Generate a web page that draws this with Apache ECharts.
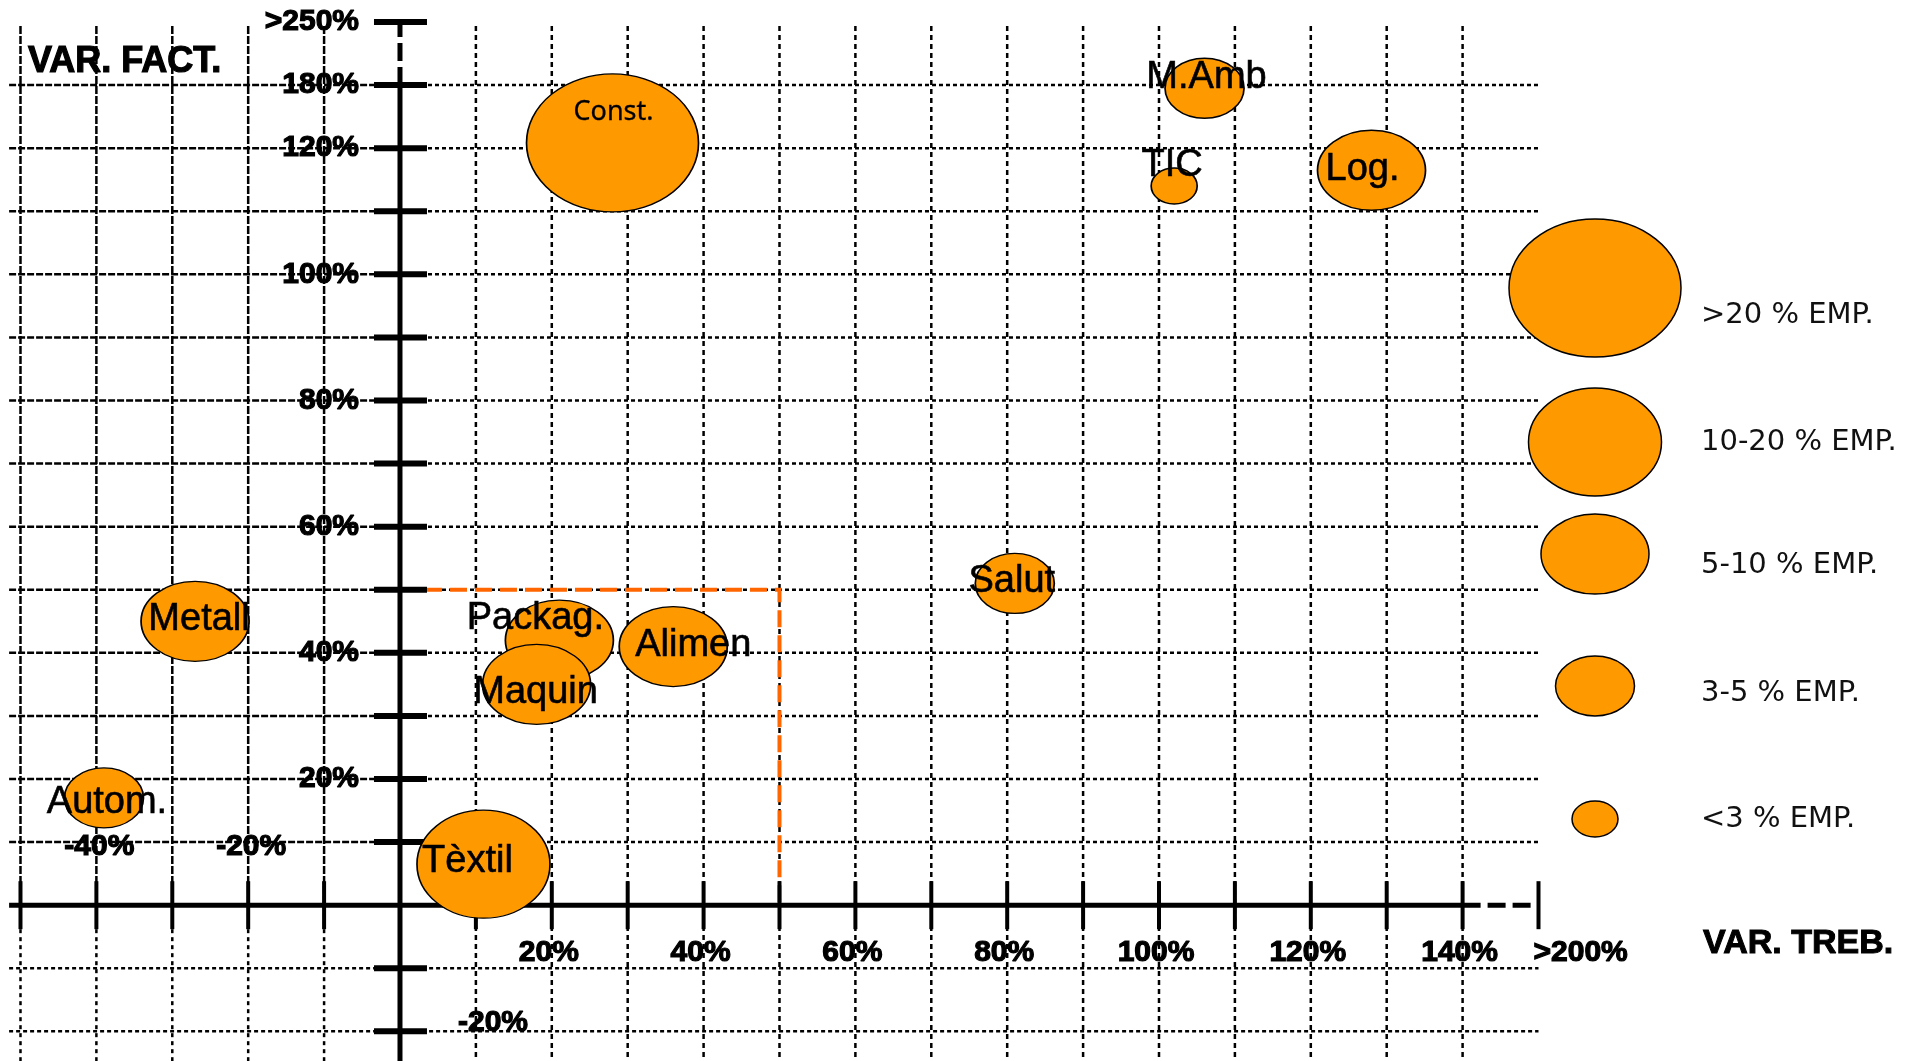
<!DOCTYPE html>
<html><head><meta charset="utf-8">
<script src="https://cdn.jsdelivr.net/npm/echarts@6/dist/echarts.min.js"></script>
<style>html,body{margin:0;padding:0;background:#fff;overflow:hidden}#c{width:1923px;height:1061px}</style>
</head><body><div id="c"></div>
<script>
// ---------------- DATA ----------------
const sectors  = ['Const.', 'M.Amb', 'TIC', 'Log.', 'Salut', 'Packag.', 'Maquin', 'Alimen', 'Metall', 'Autom.', 'Tèxtil'];
const varTreb  = [28, 106, 102, 128, 81, 21, 18, 36, -27, -39, 11];      // VAR. TREB. (%)
const varFact  = [125, 177, 114, 116.5, 51, 42, 35, 41, 45, 17, 6.5];     // VAR. FACT. (%)
const empClass = [0, 3, 4, 2, 3, 2, 2, 2, 2, 3, 1];                        // index into empClassLabels
const empClassLabels = ['>20 % EMP.', '10-20 % EMP.', '5-10 % EMP.', '3-5 % EMP.', '<3 % EMP.'];
const xTicks = [-50, -40, -30, -20, -10, 0, 10, 20, 30, 40, 50, 60, 70, 80, 90, 100, 110, 120, 130, 140, 200];
const yTicks = [-20, -10, 0, 10, 20, 30, 40, 50, 60, 70, 80, 90, 100, 110, 120, 180, 250];
const xLabelValues = [-40, -20, 20, 40, 60, 80, 100, 120, 140, 200];
const xLabelTexts  = ['-40%', '-20%', '20%', '40%', '60%', '80%', '100%', '120%', '140%', '>200%'];
const yLabelValues = [-20, 20, 40, 60, 80, 100, 120, 180, 250];
const yLabelTexts  = ['-20%', '20%', '40%', '60%', '80%', '100%', '120%', '180%', '>250%'];
const focusBox = [50, 50]; // dashed quadrant limit (VAR. TREB., VAR. FACT.)
const xTitle = 'VAR. TREB.';
const yTitle = 'VAR. FACT.';

// ---------------- SCALE (piecewise through ticks) ----------------
function toPos(v, ticks) {
  const z = ticks.indexOf(0);
  let i = 0;
  while (i < ticks.length - 2 && v > ticks[i + 1]) i++;
  return i + (v - ticks[i]) / (ticks[i + 1] - ticks[i]) - z;
}
const xPos = v => toPos(v, xTicks);
const yPos = v => toPos(v, yTicks);

// ---------------- STYLE ----------------
const X_MIN = -5.15, X_MAX = 15, Y_MIN = -2.47, Y_MAX = 14;
const ORANGE = '#FF9900';
const classSize = [[172, 138], [133, 108], [108, 80], [79, 60], [46, 36]];
const labelNudge = {
  'Const.': [1, -31], 'M.Amb': [2, -11], 'TIC': [-2, -21], 'Log.': [-9, -1], 'Salut': [-3, -2],
  'Packag.': [-24, -22], 'Maquin': [-1, 8], 'Alimen': [20, -1], 'Metall': [4, -2], 'Autom.': [3, 5], 'Tèxtil': [-16, -3]
};
const TICK_FONT = 'bold 30px "Liberation Sans", Arial, sans-serif';

function frameRender(params, api) {
  const c = (xv, yv) => api.coord([xPos(xv), yPos(yv)]);
  const cp = (px, py) => api.coord([px, py]);
  const o = c(0, 0);
  const kids = [];
  const line = (a, b, w, dash, color) => kids.push({
    type: 'line', shape: { x1: a[0], y1: a[1], x2: b[0], y2: b[1] },
    style: { stroke: color || '#000', lineWidth: w, lineDash: dash || null, lineCap: 'butt' }
  });
  const text = (str, x, y, align) => kids.push({
    type: 'text', x: x, y: y,
    style: { text: str, font: TICK_FONT, fill: '#000', stroke: '#000', lineWidth: 1.2,
      align: align, textAlign: align, verticalAlign: 'middle', textVerticalAlign: 'middle' }
  });
  const left = cp(X_MIN, 0)[0], right = cp(X_MAX, 0)[0];
  const top = c(0, yTicks[yTicks.length - 1])[1] + 4, bottom = cp(0, Y_MIN)[1];
  // grid
  xTicks.slice(0, -1).forEach(v => {
    if (v === 0) return;
    const x = c(v, 0)[0];
    if (v < 0) { line([x, top], [x, o[1]], 2.5, [8, 2]); line([x, o[1]], [x, bottom], 2.5, [4, 4]); }
    else line([x, top], [x, bottom], 2.5, [5, 4]);
  });
  yTicks.slice(0, -1).forEach(v => {
    if (v === 0) return;
    const y = c(0, v)[1];
    if (v > 0) { line([left, y], [o[0], y], 2.5, [7, 2]); line([o[0], y], [right, y], 2.5, [4, 3]); }
    else line([left, y], [right, y], 2.5, [4, 3]);
  });
  // dashed focus box
  const p1 = c(0, focusBox[1]), p2 = c(focusBox[0], focusBox[1]), p3 = c(focusBox[0], 0);
  kids.push({ type: 'polyline', shape: { points: [p1, p2, p3] },
    style: { stroke: '#FF6600', lineWidth: 4, lineDash: [17, 8], fill: null } });
  // axes
  const xl = xTicks[xTicks.length - 2], xe = xTicks[xTicks.length - 1];
  const yl = yTicks[yTicks.length - 2], ye = yTicks[yTicks.length - 1];
  line(cp(X_MIN, 0), c(xl, 0), 5); line(c(xl, 0), c(xe, 0), 5, [18, 7]);
  line(cp(0, Y_MIN), c(0, yl), 5); line(c(0, yl), c(0, ye), 5, [18, 6]);
  xTicks.forEach(v => { if (v === 0) return; const x = c(v, 0)[0]; line([x, o[1] - 24], [x, o[1] + 24], 4); });
  yTicks.forEach(v => { if (v === 0) return; const y = c(0, v)[1]; line([o[0] - 26, y], [o[0] + 27, y], 6); });
  // tick labels
  xLabelValues.forEach((v, i) => {
    const x = c(v, 0)[0];
    if (v < 0) text(xLabelTexts[i], x + 3, o[1] - 58, 'center');
    else if (i === xLabelValues.length - 1) text(xLabelTexts[i], x - 5, o[1] + 48, 'left');
    else text(xLabelTexts[i], x - 3, o[1] + 48, 'center');
  });
  yLabelValues.forEach((v, i) => {
    const y = c(0, v)[1];
    if (v < 0) text(yLabelTexts[i], o[0] + 58, y - 9, 'left');
    else text(yLabelTexts[i], o[0] - 41, y, 'right');
  });
  return { type: 'group', children: kids };
}

const bubbleData = sectors.map((s, i) => ({
  name: s, value: [xPos(varTreb[i]), yPos(varFact[i])], symbolSize: classSize[empClass[i]]
}));
const labelData = sectors.map((s, i) => {
  const item = { name: s, value: [xPos(varTreb[i]), yPos(varFact[i])], label: { offset: labelNudge[s] } };
  if (s === 'Const.') { item.label.fontFamily = '"Noto Sans", sans-serif'; item.label.fontSize = 27; item.label.textBorderWidth = 0.3; }
  return item;
});

// legend + titles (graphic)
const legendY = [288, 442, 554, 686, 819], legendTextY = [315, 442, 565, 693, 819];
const legendEls = [];
empClassLabels.forEach((lab, i) => {
  legendEls.push({ type: 'ellipse', shape: { cx: 1595, cy: legendY[i], rx: classSize[i][0] / 2, ry: classSize[i][1] / 2 },
    style: { fill: ORANGE, stroke: '#000', lineWidth: 1.5 }, z: 10 });
  legendEls.push({ type: 'text', x: 1701, y: legendTextY[i],
    style: { text: lab, font: '29px "DejaVu Sans", sans-serif', fill: '#111', textAlign: 'left', textVerticalAlign: 'middle', align: 'left', verticalAlign: 'middle' }, z: 10 });
});
legendEls.push({ type: 'text', x: 28, y: 62, style: { text: yTitle, font: 'bold 36px "Liberation Sans", Arial, sans-serif', fill: '#000', stroke: '#000', lineWidth: 1.2, textVerticalAlign: 'middle', verticalAlign: 'middle' }, z: 10 });
legendEls.push({ type: 'text', x: 1703, y: 944, style: { text: xTitle, font: 'bold 34px "Liberation Sans", Arial, sans-serif', fill: '#000', stroke: '#000', lineWidth: 1, textVerticalAlign: 'middle', verticalAlign: 'middle' }, z: 10 });

const chart = echarts.init(document.getElementById('c'), null, { renderer: 'canvas' });
chart.setOption({
  animation: false,
  backgroundColor: '#fff',
  grid: { left: 9.1, right: 384.5, top: 22, bottom: 0, containLabel: false, outerBoundsMode: 'none' },
  xAxis: { type: 'value', min: X_MIN, max: X_MAX, show: false },
  yAxis: { type: 'value', min: Y_MIN, max: Y_MAX, show: false },
  graphic: { elements: legendEls },
  series: [
    { type: 'custom', name: 'frame', coordinateSystem: 'cartesian2d', data: [[0, 0]], renderItem: frameRender, clip: false, z: 1, silent: true },
    { type: 'scatter', name: 'bubbles', data: bubbleData, symbol: 'circle', z: 4, silent: true,
      itemStyle: { color: ORANGE, borderColor: '#000', borderWidth: 1.5, opacity: 1 } },
    { type: 'scatter', name: 'labels', data: labelData, symbolSize: 1, z: 6, silent: true,
      itemStyle: { color: 'rgba(0,0,0,0)' },
      label: { show: true, position: 'inside', formatter: '{b}', color: '#000', opacity: 1,
        fontFamily: '"Liberation Sans", Arial, sans-serif', fontSize: 38,
        textBorderColor: '#000', textBorderWidth: 0.6 } }
  ]
});
</script>
</body></html>
